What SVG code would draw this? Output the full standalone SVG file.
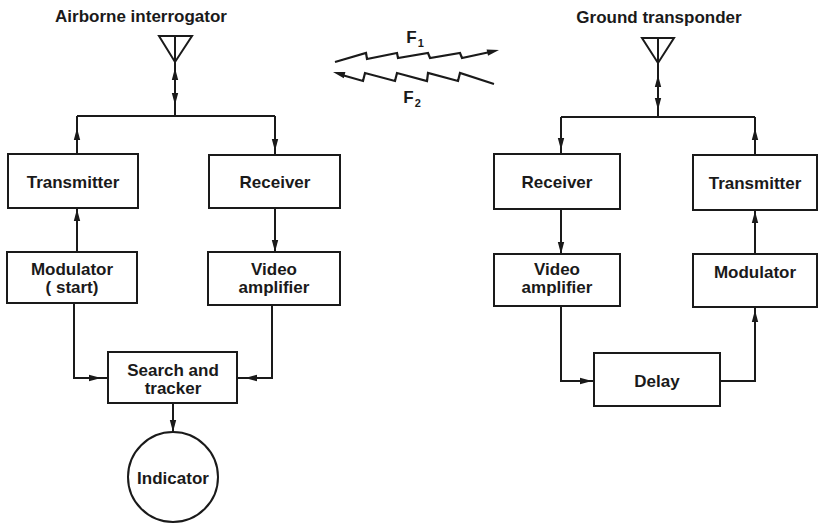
<svg xmlns="http://www.w3.org/2000/svg" width="821" height="523" viewBox="0 0 821 523">
<defs>
<style>
.box{fill:none;stroke:#1a1a1a;stroke-width:2}
.ln{fill:none;stroke:#1a1a1a;stroke-width:2}
.wv{fill:none;stroke:#1a1a1a;stroke-width:2.2;stroke-linejoin:miter}
text{font-family:"Liberation Sans",Arial,sans-serif;font-weight:bold;font-size:17px;fill:#1a1a1a;text-anchor:middle}
.ah{fill:#1a1a1a}
</style>
<path id="ah" d="M0,0 L-12,-3.2 L-12,3.2 Z"/>
</defs>
<rect width="821" height="523" fill="#fff"/>

<g id="title-left"><text x="141" y="22">Airborne interrogator</text></g>
<g id="title-right"><text x="659" y="23">Ground transponder</text></g>

<g id="antenna-left">
<path class="ln" d="M159,36 L192,36 L175,62 Z M175,36 L175,62"/>
</g>
<g id="antenna-right">
<path class="ln" d="M642,38 L674,38 L658,63 Z M658,38 L658,63"/>
</g>

<g id="signals">
<path class="wv" d="M335,62 L366,53 L367,59 L397,53 L398,58 L428,53 L430,58 L460,53 L462,58 L490,52"/>
<use href="#ah" class="ah" transform="translate(499,50) rotate(-13)"/>
<path class="wv" d="M342,75 L363,81 L365,73 L395,81 L397,73 L427,81 L428,73 L458,81 L460,73 L494,84"/>
<use href="#ah" class="ah" transform="translate(333,72) rotate(195)"/>
<text x="415" y="43">F<tspan font-size="11" dx="1" dy="4">1</tspan></text>
<text x="412" y="103">F<tspan font-size="11" dx="1" dy="4">2</tspan></text>
</g>

<g id="transmitter-left"><rect class="box" x="8" y="154" width="130" height="54"/><text x="73" y="188">Transmitter</text></g>
<g id="receiver-left"><rect class="box" x="209" y="155" width="131" height="53"/><text x="275" y="188">Receiver</text></g>
<g id="modulator-left"><rect class="box" x="7" y="252" width="130" height="51"/><text x="72" y="275">Modulator</text><text x="72" y="293">( start)</text></g>
<g id="video-left"><rect class="box" x="208" y="252" width="132" height="53"/><text x="274" y="275">Video</text><text x="274" y="293">amplifier</text></g>
<g id="search"><rect class="box" x="108" y="352" width="129" height="51"/><text x="173" y="376">Search and</text><text x="173" y="394">tracker</text></g>
<g id="indicator"><circle class="box" cx="173" cy="477" r="45"/><text x="173" y="484">Indicator</text></g>

<g id="receiver-right"><rect class="box" x="494" y="154" width="126" height="55"/><text x="557" y="188">Receiver</text></g>
<g id="transmitter-right"><rect class="box" x="693" y="155" width="124" height="55"/><text x="755" y="189">Transmitter</text></g>
<g id="video-right"><rect class="box" x="494" y="254" width="126" height="52"/><text x="557" y="275">Video</text><text x="557" y="293">amplifier</text></g>
<g id="modulator-right"><rect class="box" x="693" y="254" width="124" height="53"/><text x="755" y="278">Modulator</text></g>
<g id="delay"><rect class="box" x="594" y="353" width="126" height="53"/><text x="657" y="387">Delay</text></g>

<g id="connectors">
<path class="ln" d="M175,62 L175,116 M77,116 L275,116 M77,116 L77,154 M275,116 L275,155"/>
<path class="ln" d="M77,208 L77,252 M275,208 L275,252"/>
<path class="ln" d="M74,303 L74,378 L108,378 M272,305 L272,378 L237,378 M173,403 L173,432"/>
<path class="ln" d="M658,63 L658,117 M561,117 L755,117 M561,117 L561,154 M755,117 L755,155"/>
<path class="ln" d="M561,209 L561,254 M755,210 L755,254"/>
<path class="ln" d="M561,306 L561,381 L594,381 M720,381 L755,381 L755,307"/>
<use href="#ah" class="ah" transform="translate(175,68) rotate(-90)"/>
<use href="#ah" class="ah" transform="translate(175,105) rotate(90)"/>
<use href="#ah" class="ah" transform="translate(77,128) rotate(-90)"/>
<use href="#ah" class="ah" transform="translate(275,151) rotate(90)"/>
<use href="#ah" class="ah" transform="translate(77,209) rotate(-90)"/>
<use href="#ah" class="ah" transform="translate(275,252) rotate(90)"/>
<use href="#ah" class="ah" transform="translate(101,378)"/>
<use href="#ah" class="ah" transform="translate(245,378) rotate(180)"/>
<use href="#ah" class="ah" transform="translate(173,432) rotate(90)"/>
<use href="#ah" class="ah" transform="translate(658,75) rotate(-90)"/>
<use href="#ah" class="ah" transform="translate(658,110) rotate(90)"/>
<use href="#ah" class="ah" transform="translate(561,150) rotate(90)"/>
<use href="#ah" class="ah" transform="translate(755,128) rotate(-90)"/>
<use href="#ah" class="ah" transform="translate(755,211) rotate(-90)"/>
<use href="#ah" class="ah" transform="translate(561,254) rotate(90)"/>
<use href="#ah" class="ah" transform="translate(592,381)"/>
<use href="#ah" class="ah" transform="translate(755,310) rotate(-90)"/>
</g>
</svg>
